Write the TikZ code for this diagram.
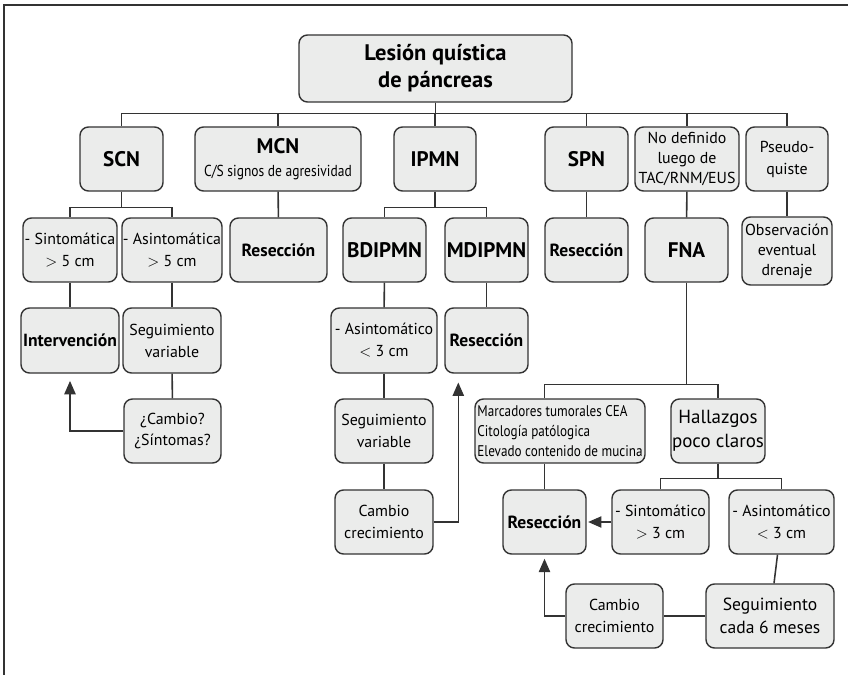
\documentclass[tikz,border=0pt]{standalone}
\usepackage{fontspec}
\setmainfont{PT Sans}
\newfontfamily\condfont[FakeStretch=0.85]{PT Sans}
\usetikzlibrary{arrows.meta,calc}

\definecolor{boxfill}{HTML}{EBECEB}
\definecolor{linegray}{HTML}{333333}

\tikzset{
  box/.style={draw=linegray,fill=boxfill,line width=1pt,rounded corners=6pt,
    align=center,inner sep=0pt,font=\fontsize{11.3}{15.6}\selectfont},
  wh/.style 2 args={minimum width=#1*0.025cm,minimum height=#2*0.025cm},
  big/.style={font=\fontsize{15}{17}\selectfont\bfseries},
  bold/.style={font=\fontsize{12.5}{15}\selectfont\bfseries},
  link/.style={draw=linegray,line width=1.1pt},
  arr/.style={link,-{Triangle[length=9.5pt,width=8pt]}},
}

\begin{document}
\begin{tikzpicture}[x=0.025cm,y=-0.025cm]
\useasboundingbox (0,0) rectangle (848,675);

% frame
\draw[linegray,line width=1.4pt] (4,680) -- (4,5) -- (853,5);

% root
\node[box,wh={273}{67},font=\fontsize{16}{19}\selectfont\bfseries] (root) at (435.5,68.5) {Lesión quística\\de páncreas};

% first level
\node[box,wh={83}{64},big] (scn) at (121.5,159) {SCN};
\node[box,wh={166}{64}] (mcn) at (278,159) {{\fontsize{15}{17}\selectfont\bfseries MCN}\\[1pt]{\condfont C/S signos de agresividad}};
\node[box,wh={82}{64},big] (ipmn) at (435,159) {IPMN};
\node[box,wh={83}{64},big] (spn) at (586.5,159) {SPN};
\node[box,wh={104}{64},font=\fontsize{11.3}{14.2}\selectfont] (nodef) at (687,159) {No definido\\luego de\\TAC/RNM/EUS};
\node[box,wh={82}{64}] (pseudo) at (787,159) {Pseudo-\\quiste};

% second level
\node[box,wh={94}{64}] (sint) at (70,250) {- Sintomática\\$>$ 5 cm};
\node[box,wh={100}{64}] (asint) at (172,250) {- Asintomática\\$>$ 5 cm};
\node[box,wh={97}{64},bold] (resmcn) at (278.5,250) {Resección};
\node[box,wh={83}{64},big] (bd) at (384.5,250) {BDIPMN};
\node[box,wh={83}{64},big] (md) at (486.5,250) {MDIPMN};
\node[box,wh={83}{64},bold] (resspn) at (586.5,250) {Resección};
\node[box,wh={83}{64},big] (fna) at (686.5,250) {FNA};
\node[box,wh={90}{68},font=\fontsize{11.3}{14.2}\selectfont] (obs) at (787,251) {Observación\\eventual\\drenaje};

% third level
\node[box,wh={98}{65},bold] (interv) at (70,340.5) {Intervención};
\node[box,wh={98}{65}] (segvar) at (172,340.5) {Seguimiento\\variable};
\node[box,wh={106}{65}] (asintip) at (384,340.5) {- Asintomático\\$<$ 3 cm};
\node[box,wh={83}{65},bold] (resmd) at (486.5,340.5) {Resección};

% fourth level
\node[box,wh={97}{64}] (cambio) at (172.5,431) {¿Cambio?\\¿Síntomas?};
\node[box,wh={98}{64}] (segvarip) at (384,431) {Seguimiento\\variable};
\node[box,wh={170}{64},align=left,font=\fontsize{11}{14.2}\selectfont\condfont] (marc) at (560,431) {Marcadores tumorales CEA\\Citología patólogica\\Elevado contenido de mucina};
\node[box,wh={94}{64},font=\fontsize{13.5}{17}\selectfont] (hall) at (718,431) {Hallazgos\\poco claros};

% fifth level
\node[box,wh={98}{64}] (cambioip) at (384,522) {Cambio\\crecimiento};
\node[box,wh={83}{64},bold] (resfna) at (544.5,522) {Resección};
\node[box,wh={97}{64}] (sinto) at (660.5,522) {- Sintomático\\$>$ 3 cm};
\node[box,wh={105}{64}] (asinto) at (781.5,522) {- Asintomático\\$<$ 3 cm};

% sixth level
\node[box,wh={97}{64}] (cambiofna) at (614.5,616) {Cambio\\crecimiento};
\node[box,wh={128}{64},font=\fontsize{12.5}{16.5}\selectfont] (seg6) at (770,616) {Seguimiento\\cada 6 meses};

% root to first level
\draw[link] (root.south) -- ++(0,11) -| (scn.north);
\draw[link] (root.south) -- ++(0,11) -| (mcn.north);
\draw[link] (root.south) -- ++(0,11) -| (ipmn.north);
\draw[link] (root.south) -- ++(0,11) -| (spn.north);
\draw[link] (root.south) -- ++(0,11) -| (nodef.north);
\draw[link] (root.south) -- ++(0,11) -| (pseudo.north);

% SCN branch
\draw[link] (scn.south) -- ++(0,16) -| (sint.north);
\draw[link] (scn.south) -- ++(0,16) -| (asint.north);
\draw[link] (sint) -- (interv);
\draw[link] (asint) -- (segvar);
\draw[link] (segvar) -- (cambio);
\draw[arr,shorten >=0.18cm] (cambio.west) -| (interv.south);

% MCN branch
\draw[link] (mcn) -- (resmcn);

% IPMN branch
\draw[link] (ipmn.south) -- ++(0,16) -| (bd.north);
\draw[link] (ipmn.south) -- ++(0,16) -| (md.north);
\draw[link] (bd) -- (asintip);
\draw[link] (asintip) -- (segvarip);
\draw[link] (segvarip) -- (cambioip);
\draw[link] (md) -- (resmd);
\draw[arr,shorten >=0.22cm] (cambioip.east) -| ($(resmd.south west)+(14,0)$);

% SPN, pseudoquiste
\draw[link] (spn) -- (resspn);
\draw[link] (pseudo) -- (obs);

% FNA branch
\draw[link] (nodef) -- (fna);
\draw[link] (fna.south) -- ++(0,102) -| (resfna |- marc.north);
\draw[link] (fna.south) -- ++(0,102) -| (hall.north);
\draw[link] (resfna |- marc.south) -- (resfna.north);
\draw[link] (hall.south) -- ++(0,15) -| (sinto.north);
\draw[link] (hall.south) -- ++(0,15) -| (asinto.north);
\draw[arr,shorten >=1pt] (sinto.west) -- (resfna.east);
\draw[link] (asinto) -- (seg6);
\draw[link] (seg6) -- (cambiofna);
\draw[arr,shorten >=0.1cm] (cambiofna.west) -| (resfna.south);

\end{tikzpicture}
\end{document}
